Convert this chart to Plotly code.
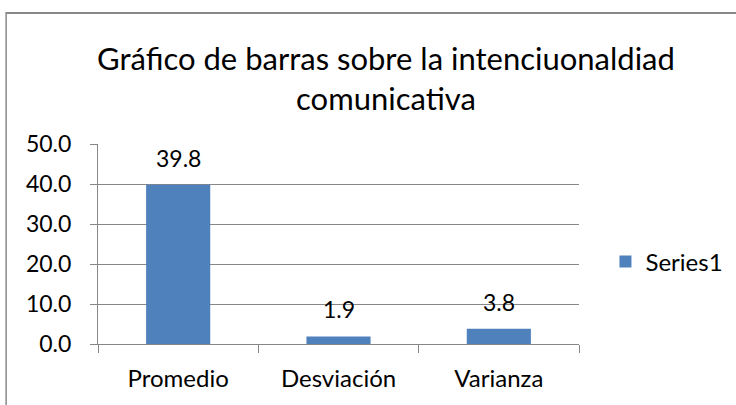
import plotly.graph_objects as go

categories = ["Promedio", "Desviación", "Varianza"]
values = [39.8, 1.9, 3.8]
value_labels = ["39.8", "1.9", "3.8"]
series_name = "Series1"
title_text = "Gráfico de barras sobre la intenciuonaldiad<br>comunicativa"

FONT = "Lato, Carlito, Calibri, sans-serif"
BLUE = "#4F81BD"
GRID = "#878787"

fig = go.Figure()
fig.add_trace(go.Bar(
    x=categories, y=values, name=series_name,
    marker=dict(color=BLUE, line=dict(width=0)),
    width=0.4, showlegend=True,
))

for c, v, t in zip(categories, values, value_labels):
    fig.add_annotation(x=c, y=v, text=t, showarrow=False, yshift=27,
                       font=dict(family=FONT, size=23, color="#000"))

# chart border (left and top edges visible)
fig.add_shape(type="line", xref="paper", yref="paper",
              x0=-0.191, x1=-0.191, y0=1.66, y1=-0.5,
              line=dict(color="#888888", width=1.5))
fig.add_shape(type="line", xref="paper", yref="paper",
              x0=-0.191, x1=1.4, y0=1.655, y1=1.655,
              line=dict(color="#888888", width=2))

fig.update_layout(
    width=736, height=405,
    margin=dict(l=98, r=157, t=144, b=61, autoexpand=False),
    paper_bgcolor="white", plot_bgcolor="white",
    font=dict(family=FONT, size=23, color="#000"),
    title=dict(text=title_text, x=386/736, xanchor="center", y=1-70/405, yanchor="middle",
               font=dict(family=FONT, size=31, color="#000")),
    legend=dict(x=1.055, y=0.41, xanchor="left", yanchor="middle",
                font=dict(family=FONT, size=24, color="#000"), bgcolor="rgba(0,0,0,0)"),
    bargap=0.6,
)
fig.update_xaxes(showgrid=False, showline=True, linecolor=GRID, linewidth=1,
                 ticks="outside", ticklen=8, tickcolor=GRID, tickson="boundaries",
                 ticklabelstandoff=13, tickfont=dict(family=FONT, size=24))
fig.update_yaxes(range=[0, 50], dtick=10, tickformat=".1f", showgrid=True, gridcolor=GRID,
                 gridwidth=1, showline=True, linecolor=GRID, linewidth=1,
                 ticks="outside", ticklen=7, tickcolor=GRID, ticklabelstandoff=14,
                 zeroline=False, tickfont=dict(family=FONT, size=23))

fig.write_html("out.html", config={"displayModeBar": False},
               post_script="document.body.style.margin='0';")
